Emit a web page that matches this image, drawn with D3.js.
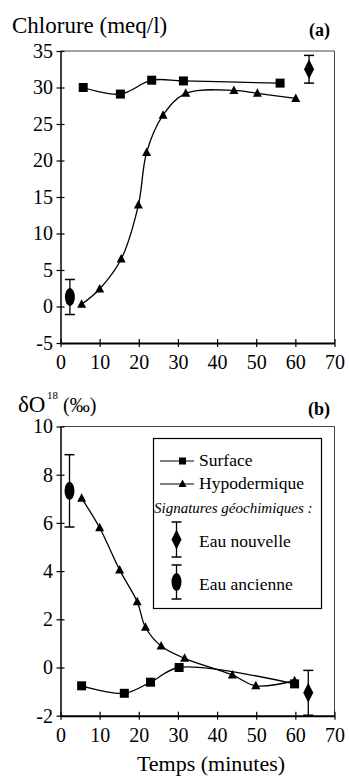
<!DOCTYPE html>
<html>
<head>
<meta charset="utf-8">
<script src="https://cdn.jsdelivr.net/npm/d3@7"></script>
<style>
  body { margin: 0; background: #fff; }
  svg text { font-family: "Liberation Serif", "Times New Roman", Times, serif !important; fill: #000; }
</style>
</head>
<body>
<svg id="chart" width="349" height="780"></svg>
<script>
// Panel (a): chlorure (meq/l)
const surfTimeA = [5.8, 15.3, 23.3, 31.4, 56.1];
const surfA = [30.0, 29.1, 31.0, 30.9, 30.6];
const hypoTimeA = [5.4, 10.0, 15.5, 19.9, 22.0, 26.2, 32.0, 44.3, 50.3, 60.1];
const hypoA = [0.3, 2.4, 6.5, 13.9, 21.1, 26.2, 29.2, 29.6, 29.2, 28.5];
const newWaterA = {t: 63.5, v: 32.5, err: 1.9};
const oldWaterA = {t: 2.4, v: 1.3, err: 2.4};
const yTicksA = [-5, 0, 5, 10, 15, 20, 25, 30, 35];

// Panel (b): delta O18 (permil)
const surfTimeB = [5.4, 16.3, 23.0, 30.3, 59.8];
const surfB = [-0.76, -1.07, -0.61, 0.0, -0.68];
const hypoTimeB = [5.4, 10.0, 15.1, 19.6, 21.7, 25.7, 31.7, 43.9, 49.9, 59.8];
const hypoB = [7.02, 5.8, 4.05, 2.73, 1.67, 0.89, 0.38, -0.31, -0.76, -0.55];
const newWaterB = {t: 63.3, v: -1.05, err: 0.93};
const oldWaterB = {t: 2.3, v: 7.33, err: 1.5};
const yTicksB = [-2, 0, 2, 4, 6, 8, 10];

const xTicks = [0, 10, 20, 30, 40, 50, 60, 70];

const svg = d3.select("#chart");
const x = d3.scaleLinear().domain([0, 70]).range([60.5, 334.5]);

function diamond(g, cx, cy) {
    g.append("path")
        .attr("d", `M${cx},${cy - 10}L${cx + 5},${cy}L${cx},${cy + 10}L${cx - 5},${cy}Z`)
        .attr("fill", "#000");
}

function errorBar(g, cx, y1, y2) {
    g.append("line").attr("x1", cx).attr("x2", cx).attr("y1", y1).attr("y2", y2)
        .attr("stroke", "#000").attr("stroke-width", 1.3);
    [y1, y2].forEach(yy => {
        g.append("line").attr("x1", cx - 5).attr("x2", cx + 5).attr("y1", yy).attr("y2", yy)
            .attr("stroke", "#000").attr("stroke-width", 1.5);
    });
}

function drawPanel(y, yTicks, sT, sV, hT, hV, nw, ow) {
    const g = svg.append("g");
    const [y0, y1] = y.range();

    // frame top/right
    g.append("line").attr("x1", x(0)).attr("x2", x(70)).attr("y1", y1).attr("y2", y1)
        .attr("stroke", "#444").attr("stroke-width", 1);
    g.append("line").attr("x1", x(70)).attr("x2", x(70)).attr("y1", y1).attr("y2", y0)
        .attr("stroke", "#444").attr("stroke-width", 1);

    // y axis
    const ya = g.append("g")
        .attr("transform", `translate(${x(0)},0)`)
        .call(d3.axisLeft(y).tickValues(yTicks).tickSize(4).tickSizeOuter(0).tickPadding(3.5));
    ya.attr("font-family", null);
    ya.select(".domain").attr("stroke-width", 1.5);
    ya.selectAll(".tick line").attr("x1", 4).attr("stroke-width", 1.2);
    ya.selectAll(".tick text").style("font-size", "20px").text(d => d);

    // x axis
    const xa = g.append("g")
        .attr("transform", `translate(0,${y0})`)
        .call(d3.axisBottom(x).tickValues(xTicks).tickSize(4).tickSizeOuter(0).tickPadding(7.8));
    xa.attr("font-family", null);
    xa.select(".domain").attr("stroke-width", 2);
    xa.selectAll(".tick line").attr("y1", -4).attr("stroke-width", 1.2);
    xa.selectAll(".tick text").style("font-size", "20px");

    const line = d3.line().x(d => x(d[0])).y(d => y(d[1])).curve(d3.curveCatmullRom);
    const sData = sT.map((t, i) => [t, sV[i]]);
    const hData = hT.map((t, i) => [t, hV[i]]);

    g.append("path").datum(sData).attr("d", line)
        .attr("fill", "none").attr("stroke", "#000").attr("stroke-width", 1.3);
    g.append("path").datum(hData).attr("d", line)
        .attr("fill", "none").attr("stroke", "#000").attr("stroke-width", 1.3);

    g.selectAll(".sq").data(sData).enter().append("rect")
        .attr("x", d => x(d[0]) - 4.5).attr("y", d => y(d[1]) - 4.5)
        .attr("width", 9).attr("height", 9).attr("fill", "#000");

    g.selectAll(".tri").data(hData).enter().append("path")
        .attr("d", d => {
            const cx = x(d[0]), cy = y(d[1]);
            return `M${cx},${cy - 5}L${cx + 4.5},${cy + 3.5}L${cx - 4.5},${cy + 3.5}Z`;
        })
        .attr("fill", "#000");

    // geochemical signatures
    errorBar(g, x(nw.t), y(nw.v + nw.err), y(nw.v - nw.err));
    diamond(g, x(nw.t), y(nw.v));
    errorBar(g, x(ow.t), y(ow.v + ow.err), y(ow.v - ow.err));
    g.append("ellipse").attr("cx", x(ow.t)).attr("cy", y(ow.v))
        .attr("rx", 5).attr("ry", 9).attr("fill", "#000");
}

const yA = d3.scaleLinear().domain([-5, 35]).range([343, 51]);
const yB = d3.scaleLinear().domain([-2, 10]).range([715.7, 426.5]);

drawPanel(yA, yTicksA, surfTimeA, surfA, hypoTimeA, hypoA, newWaterA, oldWaterA);
drawPanel(yB, yTicksB, surfTimeB, surfB, hypoTimeB, hypoB, newWaterB, oldWaterB);

// titles
svg.append("text").attr("x", 12).attr("y", 33).style("font-size", "23px")
    .text("Chlorure (meq/l)");
svg.append("text").attr("x", 330).attr("y", 36).attr("text-anchor", "end")
    .style("font-size", "18px").style("font-weight", "bold").text("(a)");

svg.append("text").attr("x", 18).attr("y", 412).style("font-size", "23px").text("δO");
svg.append("text").attr("x", 47).attr("y", 399).style("font-size", "11px").text("18");
svg.append("text").attr("x", 63).attr("y", 412).style("font-size", "20px").text("(‰)");
svg.append("text").attr("x", 330).attr("y", 415).attr("text-anchor", "end")
    .style("font-size", "18px").style("font-weight", "bold").text("(b)");

svg.append("text").attr("x", 211).attr("y", 771).attr("text-anchor", "middle")
    .style("font-size", "22px").text("Temps (minutes)");

// legend
const lg = svg.append("g");
lg.append("rect").attr("x", 153.5).attr("y", 438.5).attr("width", 168).attr("height", 170)
    .attr("fill", "#fff").attr("stroke", "#000").attr("stroke-width", 1.2);

const legendRows = [
    {label: "Surface", y: 461, mark: "square"},
    {label: "Hypodermique", y: 484, mark: "triangle"}
];
legendRows.forEach(r => {
    lg.append("line").attr("x1", 160).attr("x2", 194).attr("y1", r.y).attr("y2", r.y)
        .attr("stroke", "#000").attr("stroke-width", 1.2);
    if (r.mark === "square") {
        lg.append("rect").attr("x", 179).attr("y", r.y - 3.5).attr("width", 7).attr("height", 7)
            .attr("fill", "#000");
    } else {
        lg.append("path").attr("d", `M182.5,${r.y - 4.5}L186.5,${r.y + 3}L178.5,${r.y + 3}Z`)
            .attr("fill", "#000");
    }
    lg.append("text").attr("x", 199).attr("y", r.y + 5).style("font-size", "17.5px").text(r.label);
});
lg.append("text").attr("x", 154).attr("y", 513).style("font-size", "15px")
    .style("font-style", "italic").text("Signatures géochimiques :");

errorBar(lg, 176.5, 522, 557);
diamond(lg, 176.5, 539.5);
lg.append("text").attr("x", 199).attr("y", 547).style("font-size", "17.5px").text("Eau nouvelle");

errorBar(lg, 176.5, 565, 599);
lg.append("ellipse").attr("cx", 176.5).attr("cy", 582).attr("rx", 5).attr("ry", 9).attr("fill", "#000");
lg.append("text").attr("x", 199).attr("y", 590).style("font-size", "17.5px").text("Eau ancienne");
</script>
</body>
</html>
